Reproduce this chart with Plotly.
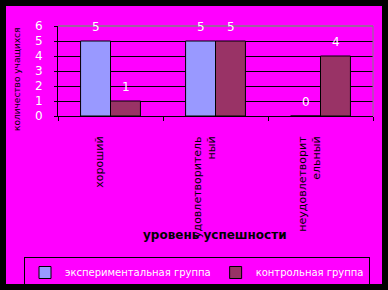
import plotly.graph_objects as go

categories = ["хороший", "удовлетворитель<br>ный", "неудовлетворит<br>ельный"]
series_names = ["экспериментальная группа", "контрольная группа"]
exp_values = [5, 5, 0]
ctrl_values = [1, 5, 4]
y_ticks = [0, 1, 2, 3, 4, 5, 6]
x_title = "уровень успешности"
y_title = "количество учащихся"

W, H = 388, 290
L, R, T, B = 58, 15, 26, 174
pw, ph = W - L - R, H - T - B

def px_x(p):
    return (p - L) / pw

def px_y(p):
    return (H - B - p) / ph

FONT = "DejaVu Sans"
fig = go.Figure()
fig.add_trace(go.Bar(x=categories, y=exp_values, name=series_names[0],
                     marker=dict(color="#9999FF", line=dict(color="black", width=1))))
fig.add_trace(go.Bar(x=categories, y=ctrl_values, name=series_names[1],
                     marker=dict(color="#993366", line=dict(color="black", width=1))))

annotations = []
for i, c in enumerate(categories):
    for vals, sh in ((exp_values, -15), (ctrl_values, 15)):
        annotations.append(dict(x=c, y=vals[i], text=str(vals[i]), showarrow=False,
                                xshift=sh, yshift=14, yanchor="middle",
                                font=dict(family=FONT, size=12, color="white")))
annotations.append(dict(xref="paper", yref="paper", x=px_x(17), y=px_y(80),
                        xanchor="center", yanchor="middle",
                        text=y_title, textangle=-90, showarrow=False,
                        font=dict(family=FONT, size=9, color="black")))
annotations.append(dict(xref="paper", yref="paper", x=px_x(215), y=px_y(235),
                        xanchor="center", yanchor="middle",
                        text="<b>" + x_title + "</b>", showarrow=False,
                        font=dict(family=FONT, size=12, color="black")))

shapes = [
    dict(type="rect", xref="paper", yref="paper", x0=px_x(6), x1=px_x(382),
         y0=px_y(284), y1=px_y(6), fillcolor="#FF00FF", line=dict(width=0), layer="below"),
    dict(type="line", xref="paper", yref="paper", x0=0, x1=1, y0=1, y1=1,
         line=dict(color="#808080", width=1.5), layer="above"),
    dict(type="line", xref="paper", yref="paper", x0=1, x1=1, y0=0, y1=1,
         line=dict(color="#808080", width=1), layer="above"),
]

fig.update_layout(
    template="none",
    width=W, height=H,
    margin=dict(l=L, r=R, t=T, b=B, autoexpand=False),
    paper_bgcolor="black", plot_bgcolor="rgba(0,0,0,0)",
    barmode="group", bargap=0.43, bargroupgap=0,
    showlegend=True,
    legend=dict(orientation="h", x=px_x(24), xanchor="left", y=px_y(257), yanchor="top",
                bordercolor="black", borderwidth=1, bgcolor="rgba(0,0,0,0)",
                font=dict(family=FONT, size=10, color="white"),
                itemwidth=30, tracegroupgap=0),
    annotations=annotations, shapes=shapes,
    xaxis=dict(showline=True, linecolor="black", linewidth=1, ticks="outside",
               tickson="boundaries", ticklen=4, tickcolor="black", tickangle=-90,
               tickfont=dict(family=FONT, size=11, color="black"), automargin=False,
               ticklabelstandoff=15, ticklabelshift=-11, showgrid=False, zeroline=False),
    yaxis=dict(range=[0, 6], tickvals=y_ticks, showline=True, linecolor="black",
               linewidth=1, ticks="outside", ticklen=3, tickcolor="black",
               showgrid=True, gridcolor="black", gridwidth=1, automargin=False,
               tickfont=dict(family=FONT, size=12, color="white"),
               ticklabelstandoff=9, zeroline=False),
)
fig.write_html("out.html")
